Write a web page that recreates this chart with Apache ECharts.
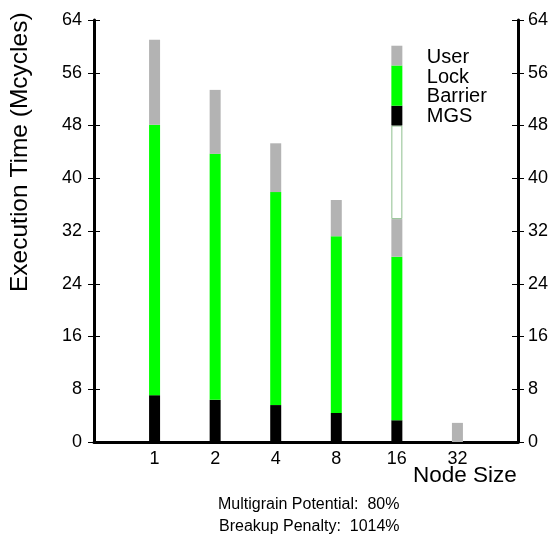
<!DOCTYPE html>
<html>
<head>
<meta charset="utf-8">
<script src="https://cdn.jsdelivr.net/npm/echarts@6/dist/echarts.min.js"></script>
<style>
  html, body { margin: 0; padding: 0; background: #fff; }
  #chart { width: 557px; height: 544px; }
</style>
</head>
<body>
<div id="chart"></div>
<script>
// Node sizes along the x axis
const nodeSizes = ['1', '2', '4', '8', '16', '32'];
// Execution time components, Mcycles
const mgs     = [7.1, 6.4, 5.6, 4.4, 3.3, 0];
const lock    = [41.0, 37.3, 32.3, 26.8, 24.8, 0];
const user    = [12.9, 9.7, 7.4, 5.5, 5.7, 2.9];
const barrier = [0, 0, 0, 0, 14.2, 0];
// Y tick labels
const yTicks = [0, 8, 16, 24, 32, 40, 48, 56, 64];
// Key swatches stacked in the 16 column: [from, to] in Mcycles
const keyBlocks = [
  { name: 'MGS',  from: 48.0, to: 51.0, color: '#000000' },
  { name: 'Lock', from: 51.0, to: 57.1, color: '#00ff00' },
  { name: 'User', from: 57.1, to: 60.1, color: '#b3b3b3' }
];
const keyLabels = ['User', 'Lock', 'Barrier', 'MGS'];

const FONT = '"Liberation Sans", Arial, Helvetica, sans-serif';
const chart = echarts.init(document.getElementById('chart'), null, { renderer: 'canvas' });

// Category slots padded with an empty slot on each side of the node sizes;
// empty components are left out so no zero-height segment is drawn
const slots = [''].concat(nodeSizes, ['']);
const pad = arr => [null].concat(arr.map(v => (v > 0 ? v : null)), [null]);

const yBase = {
  type: 'value', min: 0, max: 64, interval: 8,
  splitLine: { show: false }
};
const tickLabel = { fontFamily: FONT, fontSize: 18, color: '#000', margin: 12,
  formatter: v => yTicks.includes(v) ? String(v) : '' };

const option = {
  animation: false,
  backgroundColor: '#ffffff',
  grid: { left: 94, right: 39, top: 20, bottom: 102, containLabel: false },
  xAxis: {
    type: 'category', data: slots, boundaryGap: false,
    axisLine: { show: true, onZero: false, lineStyle: { color: '#000', width: 3 } },
    axisTick: { show: false },
    splitLine: { show: false },
    axisLabel: { fontFamily: FONT, fontSize: 18, color: '#000', margin: 8, interval: 0 }
  },
  yAxis: [
    Object.assign({}, yBase, {
      position: 'left',
      axisLine: { show: true, lineStyle: { color: '#000', width: 3 } },
      axisTick: { show: true, inside: false, length: 6, lineStyle: { color: '#000', width: 1 } },
      axisLabel: tickLabel
    }),
    Object.assign({}, yBase, {
      position: 'right',
      axisLine: { show: true, lineStyle: { color: '#000', width: 3 } },
      axisTick: { show: true, inside: false, length: 6, lineStyle: { color: '#000', width: 1 } },
      axisLabel: Object.assign({}, tickLabel, { margin: 10 })
    }),
    Object.assign({}, yBase, {
      position: 'left',
      axisLine: { show: false },
      axisTick: { show: true, inside: true, length: 6, lineStyle: { color: '#000', width: 1 } },
      axisLabel: { show: false }
    }),
    Object.assign({}, yBase, {
      position: 'right',
      axisLine: { show: false },
      axisTick: { show: true, inside: true, length: 6, lineStyle: { color: '#000', width: 1 } },
      axisLabel: { show: false }
    })
  ],
  series: [
    { name: 'MGS', type: 'bar', stack: 'time', barWidth: 11, data: pad(mgs),
      itemStyle: { color: '#000000' } },
    { name: 'Lock', type: 'bar', stack: 'time', barWidth: 11, data: pad(lock),
      itemStyle: { color: '#00ff00' } },
    { name: 'User', type: 'bar', stack: 'time', barWidth: 11, data: pad(user),
      itemStyle: { color: '#b3b3b3' } },
    { name: 'Barrier', type: 'bar', stack: 'time', barWidth: 11, data: pad(barrier),
      itemStyle: { color: '#ffffff', borderColor: '#8fbf8f', borderWidth: 1 } }
  ]
};

chart.setOption(option);

// Axis titles, footer notes, and the key placed through the grid's coordinates
const graphics = [
  { type: 'text', x: 8, y: 292, rotation: Math.PI / 2,
    style: { text: 'Execution Time (Mcycles)', font: '24.5px ' + FONT, fill: '#000' } },
  { type: 'text', x: 413, y: 464,
    style: { text: 'Node Size', font: '22.5px ' + FONT, fill: '#000' } },
  { type: 'text', x: 218, y: 497,
    style: { text: 'Multigrain Potential:  80%', font: '16px ' + FONT, fill: '#000' } },
  { type: 'text', x: 219, y: 519,
    style: { text: 'Breakup Penalty:  1014%', font: '16px ' + FONT, fill: '#000' } }
];
const keyCol = '16';
keyBlocks.forEach(b => {
  const p0 = chart.convertToPixel({ gridIndex: 0 }, [keyCol, b.from]);
  const p1 = chart.convertToPixel({ gridIndex: 0 }, [keyCol, b.to]);
  graphics.push({
    type: 'rect', z: 10,
    shape: { x: p0[0] - 5.5, y: p1[1], width: 11, height: p0[1] - p1[1] },
    style: { fill: b.color }
  });
});
const topPx = chart.convertToPixel({ gridIndex: 0 }, [keyCol, keyBlocks[keyBlocks.length - 1].to]);
keyLabels.forEach((t, i) => {
  graphics.push({
    type: 'text', z: 10, x: topPx[0] + 30, y: topPx[1] + 2 + i * 19.6,
    style: { text: t, font: '20px ' + FONT, fill: '#000' }
  });
});
chart.setOption({ graphic: graphics });
</script>
</body>
</html>
